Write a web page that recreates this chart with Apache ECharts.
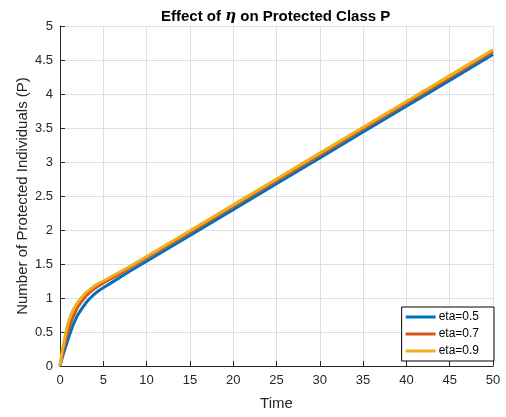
<!DOCTYPE html>
<html>
<head>
<meta charset="utf-8">
<script src="https://cdn.jsdelivr.net/npm/echarts@6/dist/echarts.min.js"></script>
<style>html,body{margin:0;padding:0;background:#fff}#c{width:506px;height:417px}</style>
</head>
<body>
<div id="c"></div>
<script>
var times = [0, 0.25, 0.5, 0.75, 1, 1.25, 1.5, 2, 2.5, 3, 3.5, 4, 4.5, 5, 6, 7, 8, 10, 15, 20, 25, 30, 35, 40, 45, 50];
var eta05 = [0, 0.12, 0.22, 0.32, 0.42, 0.51, 0.60, 0.74, 0.84, 0.93, 1.00, 1.06, 1.11, 1.15, 1.23, 1.31, 1.39, 1.54, 1.92, 2.30, 2.68, 3.06, 3.44, 3.82, 4.20, 4.58];
var eta07 = [0, 0.17, 0.30, 0.43, 0.54, 0.64, 0.72, 0.86, 0.95, 1.03, 1.09, 1.14, 1.18, 1.22, 1.29, 1.36, 1.44, 1.59, 1.965, 2.345, 2.725, 3.105, 3.485, 3.865, 4.245, 4.625];
var eta09 = [0, 0.22, 0.38, 0.53, 0.66, 0.75, 0.82, 0.93, 1.01, 1.08, 1.13, 1.18, 1.22, 1.25, 1.32, 1.39, 1.46, 1.61, 1.99, 2.37, 2.75, 3.13, 3.51, 3.89, 4.27, 4.65];
var seriesNames = ['eta=0.5', 'eta=0.7', 'eta=0.9'];
var xTicks = [0, 5, 10, 15, 20, 25, 30, 35, 40, 45, 50];
var yTicks = [0, 0.5, 1, 1.5, 2, 2.5, 3, 3.5, 4, 4.5, 5];

function pairs(ys) { return times.map(function (t, i) { return [t, ys[i]]; }); }

var colors = ['#0072BD', '#D95319', '#EDB120'];
var font = 'Liberation Sans, Arial, sans-serif';
var chart = echarts.init(document.getElementById('c'));
chart.setOption({
  animation: false,
  backgroundColor: '#fff',
  title: {
    text: '{b|Effect of }{i|η}{b| on Protected Class P}',
    left: 156, top: 4,
    textStyle: {
      rich: {
        b: { fontFamily: font, fontWeight: 'bold', fontSize: 15, color: '#000' },
        i: { fontFamily: 'DejaVu Serif, serif', fontStyle: 'italic', fontSize: 15, color: '#000' }
      }
    }
  },
  grid: { left: 60, right: 13, top: 26, bottom: 51, containLabel: false },
  legend: {
    data: seriesNames,
    orient: 'vertical',
    right: 12, top: 307,
    backgroundColor: '#fff',
    borderColor: '#000', borderWidth: 1, borderRadius: 0,
    padding: [4, 15, 4, 4],
    itemWidth: 30, itemHeight: 3, itemGap: 5,
    icon: 'rect',
    textStyle: { fontFamily: font, fontSize: 12, color: '#000', padding: [0, 0, 0, -2] }
  },
  xAxis: {
    type: 'value', min: 0, max: 50, interval: 5,
    name: 'Time', nameLocation: 'middle', nameGap: 30, nameMoveOverlap: false,
    nameTextStyle: { fontFamily: font, fontSize: 15, color: '#262626' },
    axisLine: { show: true, lineStyle: { color: '#262626', width: 1 } },
    axisTick: { show: true, inside: true, length: 5, lineStyle: { color: '#262626' } },
    axisLabel: { fontFamily: font, fontSize: 13, color: '#262626', margin: 8,
      formatter: function (v) { return xTicks.indexOf(v) >= 0 ? String(v) : ''; } },
    splitLine: { show: true, lineStyle: { color: '#dfdfdf', width: 1 } }
  },
  yAxis: {
    type: 'value', min: 0, max: 5, interval: 0.5,
    name: 'Number of Protected Individuals (P)', nameLocation: 'middle', nameGap: 30, nameMoveOverlap: false,
    nameTextStyle: { fontFamily: font, fontSize: 15, color: '#262626' },
    axisLine: { show: true, lineStyle: { color: '#262626', width: 1 } },
    axisTick: { show: true, inside: true, length: 5, lineStyle: { color: '#262626' } },
    axisLabel: { fontFamily: font, fontSize: 13, color: '#262626', margin: 7,
      formatter: function (v) { return yTicks.indexOf(v) >= 0 ? String(v) : ''; } },
    splitLine: { show: true, lineStyle: { color: '#dfdfdf', width: 1 } }
  },
  series: [eta05, eta07, eta09].map(function (ys, i) {
    return {
      name: seriesNames[i], type: 'line', data: pairs(ys),
      showSymbol: false, smooth: false,
      color: colors[i],
      lineStyle: { color: colors[i], width: 3 }
    };
  })
});
</script>
</body>
</html>
